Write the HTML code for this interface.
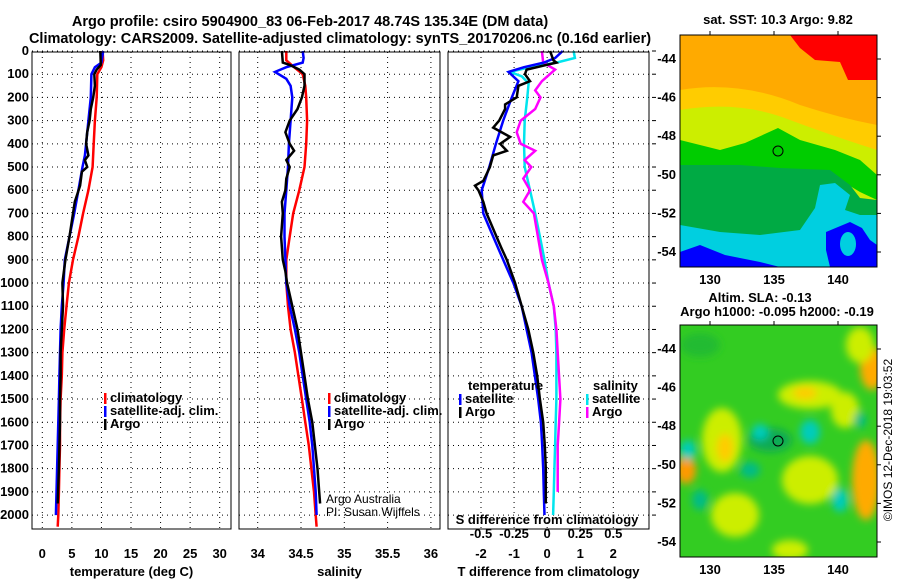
<!DOCTYPE html>
<html><head><meta charset="utf-8">
<style>
html,body{margin:0;padding:0;background:#fff;}
svg{display:block;font-family:"Liberation Sans",Arial,sans-serif;}
.t{font-weight:bold;font-size:13px;}
.tt{font-weight:bold;font-size:14.5px;}
</style></head>
<body>
<svg id="chart" width="900" height="580" viewBox="0 0 900 580" xmlns="http://www.w3.org/2000/svg">
<rect width="900" height="580" fill="#fff"/>
<text class="tt" x="310" y="26" text-anchor="middle">Argo profile: csiro 5904900_83 06-Feb-2017 48.74S 135.34E (DM data)</text>
<text class="tt" x="340" y="43" text-anchor="middle">Climatology: CARS2009. Satellite-adjusted climatology: synTS_20170206.nc (0.16d earlier)</text>
<g id="panels"></g>
<g id="maps">
 <defs>
  <clipPath id="c1"><rect x="680" y="35" width="197" height="232"/></clipPath>
  <clipPath id="c2"><rect x="680" y="325" width="197" height="232"/></clipPath>
  <filter id="bl" x="-50%" y="-50%" width="200%" height="200%"><feGaussianBlur stdDeviation="4"/></filter>
 </defs>
 <text class="t" x="778" y="24" text-anchor="middle">sat. SST: 10.3 Argo: 9.82</text>
 <g clip-path="url(#c1)">
  <rect x="680" y="35" width="197" height="232" fill="#ffaa00"/>
  <path d="M790 35 L877 35 L877 80 L848 80 L840 62 L815 60 L800 48 Z" fill="#ff0000"/>
  <path d="M680 90 Q740 80 800 105 Q840 118 877 125 L877 267 L680 267 Z" fill="#ffcc00"/>
  <path d="M680 110 Q740 100 790 120 Q830 135 877 150 L877 267 L680 267 Z" fill="#ccee00"/>
  <path d="M680 140 L720 150 L745 143 L778 128 L800 140 L835 150 L860 160 L877 175 L877 200 L860 192 L840 180 L825 185 L815 215 L800 220 L790 240 L740 230 L680 225 Z" fill="#00cc00"/>
  <path d="M680 165 L740 165 L780 168 L830 170 L850 185 L860 198 L877 200 L877 267 L680 267 Z" fill="#00aa44"/>
  <path d="M680 225 L720 232 L760 235 L800 230 L815 208 L820 185 L835 183 L850 195 L845 210 L860 215 L877 215 L877 267 L680 267 Z" fill="#00cfe0"/>
  <path d="M680 252 L700 245 L725 255 L740 258 L760 262 L780 267 L680 267 Z" fill="#0000ff"/>
  <path d="M826 232 L850 222 L862 228 L870 240 L877 245 L877 267 L830 267 L826 250 Z" fill="#0000ff"/>
  <ellipse cx="848" cy="244" rx="8" ry="12" fill="#00cfe0"/>
  <circle cx="778" cy="151" r="5" fill="none" stroke="#000" stroke-width="1"/>
 </g>
 <rect x="680" y="35" width="197" height="232" fill="none" stroke="#000"/>
 <text class="t" x="760" y="302" text-anchor="middle">Altim. SLA: -0.13</text>
 <text class="t" x="777" y="316" text-anchor="middle">Argo h1000: -0.095 h2000: -0.19</text>
 <g clip-path="url(#c2)">
  <rect x="680" y="325" width="197" height="232" fill="#33cc22"/>
  <g filter="url(#bl)">
   <ellipse cx="700" cy="345" rx="20" ry="12" fill="#22bb33"/>
   <ellipse cx="810" cy="395" rx="32" ry="14" fill="#ccee00"/>
   <ellipse cx="805" cy="393" rx="12" ry="6" fill="#ffcc00"/>
   <ellipse cx="872" cy="368" rx="12" ry="22" fill="#ffaa00"/>
   <ellipse cx="860" cy="345" rx="14" ry="18" fill="#ccee00"/>
   <ellipse cx="722" cy="440" rx="20" ry="32" fill="#ccee00"/>
   <ellipse cx="725" cy="448" rx="8" ry="14" fill="#ffcc00"/>
   <ellipse cx="686" cy="470" rx="10" ry="14" fill="#ff9900"/>
   <ellipse cx="866" cy="480" rx="14" ry="40" fill="#ffaa00"/>
   <ellipse cx="810" cy="480" rx="28" ry="24" fill="#ccee00"/>
   <ellipse cx="735" cy="515" rx="24" ry="22" fill="#ccee00"/>
   <ellipse cx="845" cy="410" rx="14" ry="18" fill="#ccee00"/>
   <ellipse cx="810" cy="432" rx="10" ry="12" fill="#00ccbb"/>
   <ellipse cx="770" cy="440" rx="22" ry="12" fill="#11aa55"/>
   <ellipse cx="760" cy="432" rx="8" ry="8" fill="#00ccbb"/>
   <ellipse cx="750" cy="470" rx="10" ry="8" fill="#00bb88"/>
   <ellipse cx="840" cy="500" rx="8" ry="12" fill="#00ccbb"/>
   <ellipse cx="688" cy="450" rx="8" ry="10" fill="#00ccbb"/>
   <ellipse cx="700" cy="500" rx="8" ry="10" fill="#00bb88"/>
   <ellipse cx="790" cy="550" rx="18" ry="10" fill="#ccee00"/>
   <ellipse cx="860" cy="420" rx="6" ry="8" fill="#00bb88"/>
  </g>
  <circle cx="778" cy="441" r="5" fill="none" stroke="#000" stroke-width="1"/>
 </g>
 <rect x="680" y="325" width="197" height="232" fill="none" stroke="#000"/>
 <text x="892" y="440" font-size="12" text-anchor="middle" transform="rotate(-90 892 440)">©IMOS 12-Dec-2018 19:03:52</text>
 <g id="mapaxes"></g>
</g>
</svg>
<script>
// ---- data ----
const tClimDepth=[0,40,70,100,200,300,400,500,600,700,800,900,1000,1100,1200,1300,1400,1500,1600,1700,1800,1900,2000,2050];
const tClim=[10.2,10.3,10.0,9.3,9.2,8.9,8.7,8.5,7.8,6.9,6.1,5.2,4.5,4.1,3.7,3.4,3.3,3.1,3.0,3.0,2.9,2.8,2.7,2.6];
const tSatDepth=[0,50,70,100,200,300,400,450,500,600,700,800,900,1000,1100,1200,1300,1400,1500,1700,1900,2000];
const tSat=[10.3,10.0,8.9,8.3,8.2,7.8,7.4,7.2,6.8,6.1,5.4,4.6,3.8,3.6,3.3,3.1,3.0,2.9,2.8,2.6,2.4,2.3];
const tArgoDepth=[0,60,80,100,150,200,250,300,350,400,450,470,500,520,580,650,700,800,900,1000,1100,1200,1300,1400,1500,1600,1800,1950];
const tArgo=[9.8,9.9,9.2,8.8,8.9,8.6,8.2,8.0,7.6,7.4,7.8,7.2,7.6,6.7,6.4,5.5,5.2,4.6,3.9,3.4,3.5,3.3,3.1,3.1,3.0,3.0,2.8,2.6];
const sClimDepth=[0,40,70,100,150,200,300,400,500,600,700,800,900,1000,1100,1200,1300,1400,1500,1600,1700,1800,1900,2000,2050];
const sClim=[34.33,34.33,34.42,34.52,34.55,34.56,34.57,34.56,34.54,34.48,34.41,34.37,34.33,34.33,34.35,34.38,34.43,34.47,34.51,34.55,34.59,34.62,34.65,34.67,34.68];
const sSatDepth=[0,30,50,70,90,120,150,200,300,400,500,600,700,800,900,1000,1100,1200,1300,1400,1500,1600,1700,1800,1900,2000];
const sSat=[34.52,34.53,34.52,34.33,34.2,34.33,34.38,34.4,34.38,34.36,34.35,34.33,34.31,34.31,34.32,34.33,34.37,34.43,34.48,34.52,34.56,34.6,34.63,34.65,34.67,34.68];
const sArgoDepth=[0,50,60,80,100,150,200,250,300,350,400,430,470,500,550,600,650,700,800,900,950,1000,1100,1200,1300,1400,1500,1600,1700,1800,1900,1950];
const sArgo=[34.28,34.29,34.37,34.48,34.54,34.54,34.51,34.46,34.37,34.32,34.37,34.42,34.33,34.37,34.33,34.32,34.28,34.29,34.27,34.29,34.32,34.34,34.4,34.46,34.5,34.54,34.58,34.63,34.66,34.69,34.71,34.72];
const dTSatDepth=[0,30,50,70,90,130,200,300,400,500,600,700,800,900,1000,1100,1200,1300,1400,1500,1600,1700,1800,1900,2000];
const dTSat=[0.47,0.24,-0.1,-0.7,-1.17,-0.87,-1.07,-1.33,-1.55,-1.75,-1.98,-1.93,-1.63,-1.33,-1.02,-0.77,-0.62,-0.47,-0.37,-0.27,-0.19,-0.15,-0.12,-0.1,-0.08];
const dTArgoDepth=[0,40,50,60,80,100,130,150,200,230,250,300,330,370,400,430,450,500,530,560,580,600,650,700,800,850,900,1000,1100,1200,1300,1400,1500,1600,1700,1800,1950];
const dTArgo=[0.09,0.19,0.28,-0.02,-0.62,-0.67,-0.52,-0.87,-0.92,-1.27,-1.27,-1.45,-1.63,-1.12,-1.42,-1.22,-1.63,-1.73,-1.83,-1.93,-2.18,-2.08,-1.93,-1.83,-1.53,-1.38,-1.22,-0.97,-0.77,-0.57,-0.42,-0.3,-0.22,-0.12,-0.07,-0.04,-0.04];
const dSSatDepth=[0,30,50,70,90,110,140,200,300,400,500,600,700,800,900,1000,1100,1200,1300,1400,1500,1600,1700,1800,1900,2000];
const dSSat=[0.2,0.21,0.07,-0.13,-0.28,-0.19,-0.14,-0.15,-0.17,-0.175,-0.17,-0.13,-0.09,-0.055,-0.02,0.01,0.05,0.065,0.07,0.07,0.07,0.065,0.06,0.055,0.05,0.045];
const dSArgoDepth=[0,50,80,100,130,170,200,250,300,350,400,430,470,500,550,600,650,700,800,900,1000,1100,1200,1300,1500,1600,1700,1800,1900];
const dSArgo=[-0.04,-0.03,0.06,0.02,-0.04,-0.09,-0.05,-0.09,-0.2,-0.23,-0.2,-0.09,-0.17,-0.12,-0.18,-0.13,-0.18,-0.1,-0.07,-0.04,0.01,0.05,0.07,0.08,0.1,0.09,0.08,0.08,0.08];
const depthTicks=[0,100,200,300,400,500,600,700,800,900,1000,1100,1200,1300,1400,1500,1600,1700,1800,1900,2000];
const tTicks=[0,5,10,15,20,25,30];
const sTicks=[34,34.5,35,35.5,36];
const sTickLabels=["34","34.5","35","35.5","36"];
const dTTicks=[-2,-1,0,1,2];
const dSTicks=[-0.5,-0.25,0,0.25,0.5];
const dSTickLabels=["-0.5","-0.25","0","0.25","0.5"];
const lonTicks=[130,135,140];
const latTicks=[-44,-46,-48,-50,-52,-54];

const NS='http://www.w3.org/2000/svg';
const root=document.getElementById('panels');
function mk(tag,attrs,parent){const e=document.createElementNS(NS,tag);for(const k in attrs)e.setAttribute(k,attrs[k]);(parent||root).appendChild(e);return e;}
const Y0=52,Y1=529,DMAX=2060;
function yD(d){return 51+d*(Y1-51)/DMAX;}
function makeX(x0,x1,v0,v1){return v=>x0+(v-v0)*(x1-x0)/(v1-v0);}

function panel(name,x0,x1,xs,ticks,labels,xlabel,showDepth){
  const g=mk('g',{});
  
  
  ticks.forEach(t=>{const l=mk('line',{x1:xs(t),x2:xs(t),y1:Y0,y2:Y1,stroke:'#000','stroke-dasharray':'1,4','stroke-width':1},g);
    });
  depthTicks.forEach(d=>{const l=mk('line',{x1:x0,x2:x1,y1:yD(d),y2:yD(d),stroke:'#000','stroke-dasharray':'1,4','stroke-width':1},g);
    });
  if(labels){ticks.forEach((t,i)=>{const tx=mk('text',{x:xs(t),y:558,'text-anchor':'middle',class:'t'},g);tx.textContent=labels[i];
    });}
  const xt=mk('text',{x:(x0+x1)/2,y:576,'text-anchor':'middle',class:'t'},g);xt.textContent=xlabel;
  
  if(showDepth){depthTicks.forEach(d=>{const tx=mk('text',{x:29,y:yD(d)+4,'text-anchor':'end',class:'t'},g);tx.textContent=d;
    });}
  return g;
}
function line(g,vals,depths,xs,color,name){
  const p=vals.map((v,i)=>xs(v).toFixed(1)+','+yD(depths[i]).toFixed(1)).join(' ');
  const l=mk('polyline',{points:p,fill:'none',stroke:color,'stroke-width':2.5},g);
  
  
}
function frame(g,x0,x1){const r=mk('rect',{x:x0,y:Y0,width:x1-x0,height:Y1-Y0,fill:'none',stroke:'#000'},g);
  }
function legend(g,x,y,items){items.forEach((it,i)=>{mk('rect',{x:x,y:y+i*13-9,width:2.5,height:11,fill:it[1]},g);
  const t=mk('text',{x:x+6,y:y+i*13,class:'t'},g);t.textContent=it[0];
  });}

// Panel 1 temperature
const xT=makeX(42.3,219.7,0,30);
const g1=panel('temperature-panel',32,231,xT,tTicks,tTicks.map(String),'temperature (deg C)',true);
line(g1,tClim,tClimDepth,xT,'#ff0000','temp-climatology-line');
line(g1,tSat,tSatDepth,xT,'#0000ff','temp-satellite-line');
line(g1,tArgo,tArgoDepth,xT,'#000000','temp-argo-line');
frame(g1,32,231);
legend(g1,104,402,[['climatology','#f00'],['satellite-adj. clim.','#00f'],['Argo','#000']]);

// Panel 2 salinity
const xS=makeX(257.7,344.3,34,35);
const g2=panel('salinity-panel',239,440,xS,sTicks,sTickLabels,'salinity',false);
line(g2,sClim,sClimDepth,xS,'#ff0000','sal-climatology-line');
line(g2,sSat,sSatDepth,xS,'#0000ff','sal-satellite-line');
line(g2,sArgo,sArgoDepth,xS,'#000000','sal-argo-line');
frame(g2,239,440);
legend(g2,328,402,[['climatology','#f00'],['satellite-adj. clim.','#00f'],['Argo','#000']]);
let a=mk('text',{x:326,y:503,'font-size':'12'},g2);a.textContent='Argo Australia';

a=mk('text',{x:326,y:516,'font-size':'12'},g2);a.textContent='PI: Susan Wijffels';


// Panel 3 differences
const xDT=makeX(481,613.3,-2,2);
const xDS=v=>xDT(v*4);
const g3=panel('difference-panel',448,649,xDT,dTTicks,dTTicks.map(String),'T difference from climatology',false);
line(g3,dSSat,dSSatDepth,xDS,'#00e5ee','sdiff-satellite-line');
line(g3,dSArgo,dSArgoDepth,xDS,'#ff00ff','sdiff-argo-line');
line(g3,dTSat,dTSatDepth,xDT,'#0000ff','tdiff-satellite-line');
line(g3,dTArgo,dTArgoDepth,xDT,'#000000','tdiff-argo-line');
frame(g3,448,649);
let st=mk('text',{x:547,y:524,'text-anchor':'middle',class:'t'},g3);st.textContent='S difference from climatology';

dSTicks.forEach((t,i)=>{const tx=mk('text',{x:xDS(t),y:538,'text-anchor':'middle',class:'t'},g3);tx.textContent=dSTickLabels[i];
  });
let lt=mk('text',{x:468,y:390,class:'t'},g3);lt.textContent='temperature';

legend(g3,459,403,[['satellite','#00f'],['Argo','#000']]);
let ls=mk('text',{x:593,y:390,class:'t'},g3);ls.textContent='salinity';

legend(g3,586,403,[['satellite','#00e5ee'],['Argo','#f0f']]);
depthTicks.forEach(d=>{mk('line',{x1:652,x2:656,y1:yD(d),y2:yD(d),stroke:'#000'},g3);});

// map axes
const ma=document.getElementById('mapaxes');
const lonX=v=>710+(v-130)*12.8;
[[35,267,59],[325,557,349]].forEach(([top,bot,lat0],mi)=>{
  lonTicks.forEach(l=>{
    mk('line',{x1:lonX(l),x2:lonX(l),y1:top-4,y2:top,stroke:'#000'},ma);
    const t=mk('text',{x:lonX(l),y:bot+17,'text-anchor':'middle',class:'t'},ma);t.textContent=l;
    
  });
  latTicks.forEach(la=>{const y=lat0+(-44-la)*19.3;
    mk('line',{x1:877,x2:881,y1:y,y2:y,stroke:'#000'},ma);
    const t=mk('text',{x:676,y:y+4,'text-anchor':'end',class:'t'},ma);t.textContent=la;
    
  });
});
</script>
</body></html>
